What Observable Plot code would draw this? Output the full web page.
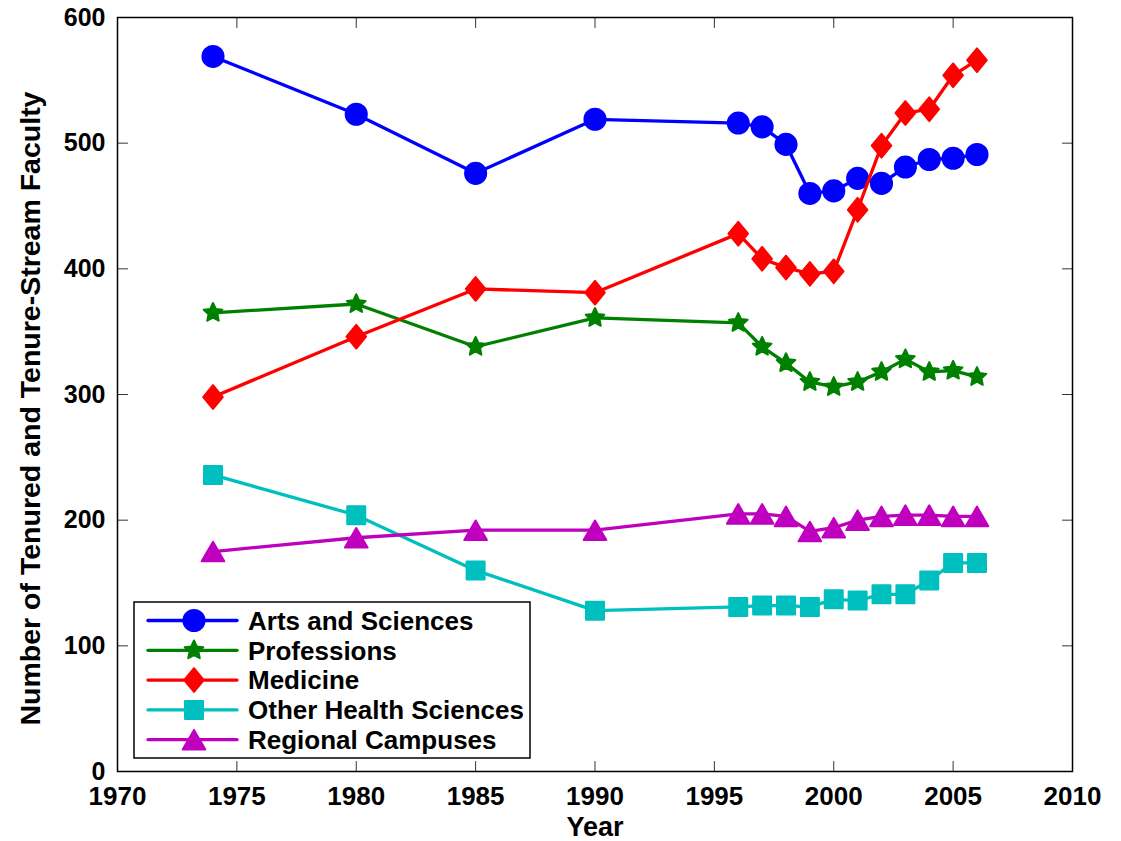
<!DOCTYPE html>
<html>
<head>
<meta charset="utf-8">
<script src="https://cdn.jsdelivr.net/npm/d3@7"></script>
<script src="https://cdn.jsdelivr.net/npm/@observablehq/plot@0.6"></script>
<style>
  html, body { margin: 0; padding: 0; background: #fff; }
  #chart { width: 1121px; height: 841px; }
</style>
</head>
<body>
<div id="chart"></div>
<script>
// ---- Data ----
const years = [1974, 1980, 1985, 1990, 1996, 1997, 1998, 1999, 2000, 2001, 2002, 2003, 2004, 2005, 2006];
const seriesNames = ["Arts and Sciences", "Professions", "Medicine", "Other Health Sciences", "Regional Campuses"];
const artsSciences = [569, 523, 476, 519, 516, 513, 499, 460, 462, 472, 468, 481, 487, 488, 491];
const professions  = [365, 372, 338, 361, 357, 338, 325, 310, 306, 310, 318, 328, 318, 319, 314];
const medicine     = [298, 346, 384, 381, 428, 408, 401, 396, 398, 447, 498, 524, 527, 554, 566];
const otherHealth  = [236, 204, 160, 128, 131, 132, 132, 131, 137, 136, 141, 141, 152, 166, 166];
const regional     = [175, 186, 192, 192, 205, 205, 203, 191, 194, 200, 203, 204, 204, 203, 203];
const xTicks = [1970, 1975, 1980, 1985, 1990, 1995, 2000, 2005, 2010];
const yTicks = [0, 100, 200, 300, 400, 500, 600];
const xLabel = "Year";
const yLabel = "Number of Tenured and Tenure-Stream Faculty";

// ---- Styles ----
function poly(pts) {
  return {
    draw(ctx, size) {
      const r = Math.sqrt(size / Math.PI);
      pts.forEach(([x, y], i) => i ? ctx.lineTo(x * r, y * r) : ctx.moveTo(x * r, y * r));
      ctx.closePath();
    }
  };
}
const starPts = d3.range(10).map(i => {
  const a = -Math.PI / 2 + i * Math.PI / 5;
  const k = i % 2 ? 0.48 : 1;
  return [k * Math.cos(a), k * Math.sin(a)];
});
const circleSym = { draw(ctx, size) { const r = Math.sqrt(size / Math.PI); ctx.moveTo(r, 0); ctx.arc(0, 0, r, 0, 2 * Math.PI); } };
const styles = [
  { color: "#0000ff", symbol: circleSym, r: 10.8, sw: 1.5 },
  { color: "#008000", symbol: poly(starPts), r: 9.8, sw: 2 },
  { color: "#ff0000", symbol: poly([[0, -1.15], [0.95, 0], [0, 1.15], [-0.95, 0]]), r: 10.3, sw: 2 },
  { color: "#00bfbf", symbol: poly([[-0.9, -0.9], [0.9, -0.9], [0.9, 0.9], [-0.9, 0.9]]), r: 10, sw: 2 },
  { color: "#bf00bf", symbol: poly([[0, -0.95], [1.1, 0.95], [-1.1, 0.95]]), r: 10.3, sw: 2 }
];
const seriesValues = [artsSciences, professions, medicine, otherHealth, regional];
const series = seriesNames.map((name, k) => ({
  name, ...styles[k],
  data: years.map((year, i) => ({ year, value: seriesValues[k][i], name }))
}));

const tickShape = { draw(ctx, l) { ctx.moveTo(0, 0); ctx.lineTo(0, -l); } };
const tickStyle = { length: 10, anchor: "start", shape: tickShape, stroke: "#333", strokeWidth: 1 };

const marks = [];
series.forEach(s => {
  marks.push(Plot.line(s.data, { x: "year", y: "value", stroke: s.color, strokeWidth: 3.3 }));
  marks.push(Plot.dot(s.data, { x: "year", y: "value", r: s.r, symbol: s.symbol, fill: s.color, stroke: s.color, strokeWidth: s.sw, strokeLinejoin: "round" }));
});

const plot = Plot.plot({
  width: 1121,
  height: 841,
  marginLeft: 117,
  marginRight: 49,
  marginTop: 17,
  marginBottom: 70,
  style: { fontFamily: "'Liberation Sans', Arial, sans-serif", color: "black", background: "white", overflow: "visible" },
  x: { domain: [1970, 2010] },
  y: { domain: [0, 600] },
  marks: [
    Plot.vector(xTicks, { x: d => d, frameAnchor: "bottom", rotate: 0, ...tickStyle }),
    Plot.vector(xTicks, { x: d => d, frameAnchor: "top", rotate: 180, ...tickStyle }),
    Plot.vector(yTicks, { y: d => d, frameAnchor: "left", rotate: 90, ...tickStyle }),
    Plot.vector(yTicks, { y: d => d, frameAnchor: "right", rotate: -90, ...tickStyle }),
    ...marks,
    Plot.axisX(xTicks, { tickSize: 0, tickPadding: 15, fontSize: 26, fontWeight: "bold", label: null, tickFormat: "d" }),
    Plot.axisY(yTicks, { tickSize: 0, tickPadding: 12, fontSize: 25, fontWeight: "bold", label: null, tickFormat: "d" }),
    Plot.text([xLabel], { text: d => d, frameAnchor: "bottom", textAnchor: "middle", lineAnchor: "middle", dy: 56, fontSize: 27, fontWeight: "bold", fill: "black" }),
    Plot.text([yLabel], { text: d => d, frameAnchor: "left", textAnchor: "middle", lineAnchor: "middle", rotate: -90, dx: -86.5, dy: 14, fontSize: 28.5, fontWeight: "bold", fill: "black" }),
    Plot.frame({ stroke: "black", strokeWidth: 1.5 })
  ]
});

// ---- Legend (inside plot area, lower left) ----
const g = d3.select(plot).append("g").attr("class", "legend");
g.append("rect")
  .attr("x", 134).attr("y", 602).attr("width", 396).attr("height", 156)
  .attr("fill", "white").attr("stroke", "black").attr("stroke-width", 1.5);
series.forEach((s, i) => {
  const cy = 620.5 + i * 29.8;
  const row = g.append("g");
  row.append("line")
    .attr("x1", 148).attr("x2", 237).attr("y1", cy).attr("y2", cy)
    .attr("stroke", s.color).attr("stroke-width", 3.3).attr("stroke-linecap", "round");
  row.append("path")
    .attr("transform", `translate(194,${cy})`)
    .attr("d", d3.symbol(s.symbol, Math.PI * s.r * s.r)())
    .attr("fill", s.color).attr("stroke", s.color)
    .attr("stroke-width", s.sw).attr("stroke-linejoin", "round");
  row.append("text")
    .attr("x", 248).attr("y", cy + 9.3)
    .attr("text-anchor", "start")
    .attr("font-size", 26).attr("font-weight", "bold").attr("fill", "black")
    .text(s.name);
});

document.getElementById("chart").appendChild(plot);
</script>
</body>
</html>
